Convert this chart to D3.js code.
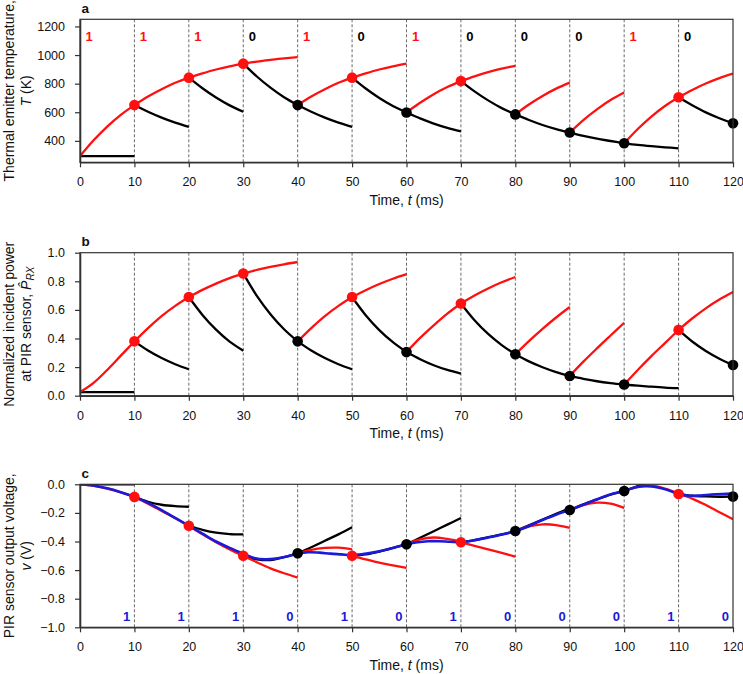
<!DOCTYPE html>
<html><head><meta charset="utf-8">
<script src="https://cdn.jsdelivr.net/npm/d3@7"></script>
<style>
body{margin:0;background:#fff}
text{font-family:"Liberation Sans",Arial,Helvetica,sans-serif}
</style>
</head><body>
<svg id="chart" width="743" height="674"></svg>
<script>
// ---------- DATA ----------
const boundaries = [0,10,20,30,40,50,60,70,80,90,100,110,120];
const bits = [1,1,1,0,1,0,1,0,0,0,1,0];
const sampleOffsets = [0,2.5,5,7.5,10];

// Panel a: emitter temperature (K), per 10 ms interval, predicted "1" (red) and "0" (black) branches
const tempRed = [
 [293,404,500,582,650],[650,710,761,806,842],[842,872,899,921,940],[940,954,967,977,986],
 [650,710,761,806,842],[842,872,899,921,940],[598,666,726,776,818],[818,851,880,905,925],
 [585,654,714,765,807],[458,545,620,685,738],[383,483,570,644,705],[705,756,801,839,870]];
const tempBlack = [
 [293,293,293,293,293],[650,603,562,527,498],[842,768,703,648,603],[940,850,772,705,650],
 [650,603,562,527,498],[842,766,700,644,598],[598,557,521,491,466],[818,746,683,629,585],
 [585,546,511,482,458],[458,435,415,399,383],[383,372,363,355,348],[705,649,599,558,523]];
const tempDots = [650,842,940,650,842,598,818,585,458,383,705,523];

// Panel b: normalized incident power at PIR sensor
const powerRed = [
 [0.025,0.09,0.18,0.28,0.38],[0.38,0.473,0.557,0.628,0.69],[0.69,0.74,0.784,0.822,0.855],[0.855,0.879,0.901,0.919,0.935],
 [0.38,0.473,0.557,0.628,0.69],[0.69,0.738,0.781,0.818,0.85],[0.305,0.404,0.492,0.574,0.645],[0.645,0.701,0.75,0.793,0.83],
 [0.29,0.382,0.468,0.547,0.62],[0.138,0.238,0.331,0.421,0.51],[0.078,0.18,0.277,0.368,0.46],[0.46,0.54,0.611,0.672,0.725]];
const powerBlack = [
 [0.025,0.025,0.025,0.025,0.025],[0.38,0.316,0.263,0.22,0.185],[0.69,0.565,0.462,0.378,0.315],[0.855,0.698,0.57,0.465,0.38],
 [0.38,0.316,0.263,0.22,0.185],[0.69,0.563,0.459,0.374,0.305],[0.305,0.255,0.213,0.18,0.155],[0.645,0.528,0.432,0.354,0.29],
 [0.29,0.24,0.199,0.165,0.138],[0.138,0.118,0.101,0.088,0.078],[0.078,0.07,0.063,0.057,0.053],[0.46,0.379,0.313,0.259,0.215]];
const powerDots = [0.38,0.69,0.855,0.38,0.69,0.305,0.645,0.29,0.138,0.078,0.46,0.215];

// Panel c: PIR sensor output voltage (V)
const voltRed = [
 [0,-0.01,-0.03,-0.057,-0.088],[-0.088,-0.135,-0.186,-0.238,-0.29],[-0.29,-0.35,-0.405,-0.455,-0.50],[-0.50,-0.545,-0.588,-0.622,-0.652],
 [-0.483,-0.458,-0.445,-0.443,-0.455],[-0.50,-0.525,-0.548,-0.567,-0.585],[-0.42,-0.385,-0.372,-0.382,-0.40],[-0.405,-0.43,-0.455,-0.48,-0.506],
 [-0.327,-0.295,-0.28,-0.285,-0.305],[-0.18,-0.145,-0.128,-0.135,-0.165],[-0.047,-0.018,-0.01,-0.03,-0.065],[-0.068,-0.1,-0.145,-0.195,-0.245]];
const voltBlack = [
 [0,0,0,0,0],[-0.088,-0.122,-0.143,-0.153,-0.157],[-0.29,-0.318,-0.338,-0.348,-0.35],[-0.50,-0.525,-0.53,-0.51,-0.483],
 [-0.483,-0.44,-0.395,-0.35,-0.30],[-0.50,-0.49,-0.47,-0.445,-0.42],[-0.42,-0.374,-0.328,-0.282,-0.236],[-0.405,-0.39,-0.37,-0.35,-0.327],
 [-0.327,-0.287,-0.247,-0.207,-0.167],[-0.18,-0.14,-0.105,-0.072,-0.047],[-0.047,-0.012,0.022,0.056,0.09],[-0.068,-0.08,-0.085,-0.087,-0.086]];
const voltDots = [-0.088,-0.29,-0.50,-0.483,-0.50,-0.42,-0.405,-0.327,-0.18,-0.047,-0.068,-0.086];

// measured PIR voltage (blue)
const measuredT = [0,2.5,5,7.5,10,12.5,15,17.5,20,22.5,25,27.5,30,32,34,36,38,40,42,44,46,48,50,52,54,56,58,60,62,64,66,68,70,72,74,76,78,80,82,84,86,88,90,92,94,96,98,100,102,104,106,108,110,112,114,116,118,120];
const measuredV = [0,-0.01,-0.028,-0.055,-0.088,-0.13,-0.18,-0.235,-0.29,-0.345,-0.40,-0.445,-0.485,-0.515,-0.525,-0.52,-0.505,-0.485,-0.475,-0.478,-0.485,-0.49,-0.495,-0.488,-0.476,-0.46,-0.44,-0.42,-0.405,-0.398,-0.398,-0.402,-0.405,-0.395,-0.38,-0.365,-0.348,-0.327,-0.3,-0.265,-0.235,-0.205,-0.18,-0.15,-0.12,-0.09,-0.065,-0.045,-0.022,-0.014,-0.02,-0.04,-0.068,-0.08,-0.078,-0.072,-0.068,-0.065];

const tempTicks = [400,600,800,1000,1200];
const powerTicks = [0,0.2,0.4,0.6,0.8,1.0];
const voltTicks = [0,-0.2,-0.4,-0.6,-0.8,-1.0];

// ---------- DRAW ----------
const RED = "#ff1010", BLACK = "#000", BLUE = "#1a1ad8";
const svg = d3.select("#chart");
const x = d3.scaleLinear().domain([0,120]).range([80,733]);
const PH = 143;

const panels = [
 {id:"a", top:19.3, domain:[250,1250], ticks:tempTicks, fmt:d3.format("d"), red:tempRed, black:tempBlack, dots:tempDots,
  title:[["Thermal emitter temperature,",false]], title2:[["T",true],[" (K)",false]], bitsTop:true},
 {id:"b", top:252.7, domain:[0,1], ticks:powerTicks, fmt:d3.format(".1f"), red:powerRed, black:powerBlack, dots:powerDots,
  title:[["Normalized incident power",false]], title2:"power"},
 {id:"c", top:484.3, domain:[-1,0], ticks:voltTicks, fmt:d3.format(".1f"), red:voltRed, black:voltBlack, dots:voltDots,
  title:[["PIR sensor output voltage,",false]], title2:[["v",true],[" (V)",false]], measured:true}
];

panels.forEach((p,pi)=>{
  const y = d3.scaleLinear().domain(p.domain).range([p.top+PH, p.top]);
  const g = svg.append("g");
  const clipId = "clip"+p.id;
  svg.append("clipPath").attr("id",clipId).append("rect")
    .attr("x",x(0)).attr("y",p.top).attr("width",x(120)-x(0)).attr("height",PH);

  // dashed verticals
  g.selectAll(".vl").data(boundaries.slice(1,-1)).join("line")
    .attr("x1",d=>x(d)).attr("x2",d=>x(d)).attr("y1",p.top).attr("y2",p.top+PH)
    .attr("stroke","#444").attr("stroke-width",0.8).attr("stroke-dasharray","3,2");

  const line = d3.line().x(d=>x(d[0])).y(d=>y(d[1])).curve(d3.curveCatmullRom.alpha(0.5));
  const cg = g.append("g").attr("clip-path",`url(#${clipId})`);
  const seg = (arr,i)=>arr.map((v,k)=>[boundaries[i]+sampleOffsets[k], v]);

  cg.selectAll(".blk").data(p.black).join("path")
    .attr("d",(d,i)=>line(seg(d,i))).attr("fill","none").attr("stroke",BLACK).attr("stroke-width",2.3);
  cg.selectAll(".red").data(p.red).join("path")
    .attr("d",(d,i)=>line(seg(d,i))).attr("fill","none").attr("stroke",RED).attr("stroke-width",2.3);

  if(p.measured){
    const pts = measuredT.map((t,i)=>[t,measuredV[i]]);
    cg.append("path").attr("d",line(pts)).attr("fill","none").attr("stroke",BLUE).attr("stroke-width",2.6);
  }

  g.selectAll(".dot").data(p.dots).join("circle")
    .attr("cx",(d,i)=>x(boundaries[i+1])).attr("cy",d=>y(d)).attr("r",5.3)
    .attr("fill",(d,i)=>bits[i]?RED:BLACK);

  // axes
  const xa = g.append("g").attr("transform",`translate(0,${p.top+PH})`)
    .call(d3.axisBottom(x).tickValues(boundaries).tickSize(5).tickPadding(10).tickSizeOuter(0));
  const ya = g.append("g").attr("transform",`translate(${x(0)},0)`)
    .call(d3.axisLeft(y).tickValues(p.ticks).tickFormat(p.fmt).tickSize(5).tickPadding(10).tickSizeOuter(0));
  [xa,ya].forEach(a=>{
    a.selectAll("text").attr("font-size",12.5).attr("fill","#111").attr("font-family","'Liberation Sans',Arial,sans-serif");
    a.selectAll("line").attr("stroke","#333").attr("stroke-width",1.2);
    a.select(".domain").attr("stroke","#333").attr("stroke-width",1.6);
  });
  g.append("rect").attr("x",x(0)).attr("y",p.top).attr("width",x(120)-x(0)).attr("height",PH)
    .attr("fill","none").attr("stroke","#333").attr("stroke-width",1.2);

  // x title
  const xt = g.append("text").attr("x",(x(0)+x(120))/2).attr("y",p.top+PH+42.5)
    .attr("text-anchor","middle").attr("font-size",14).attr("fill","#111");
  xt.append("tspan").text("Time, ");
  xt.append("tspan").attr("font-style","italic").text("t");
  xt.append("tspan").text(" (ms)");

  // panel letter
  g.append("text").attr("x",x(0)+1.5).attr("y",p.top-6.5).attr("font-size",13.5).attr("font-weight","bold")
    .attr("fill","#111").text(p.id);

  // y title
  const cy = p.top+PH/2;
  const t1 = g.append("text").attr("transform",`translate(14,${cy}) rotate(-90)`)
    .attr("text-anchor","middle").attr("font-size",14).attr("fill","#111");
  p.title.forEach(([s,it])=>t1.append("tspan").attr("font-style",it?"italic":null).text(s));
  const t2 = g.append("text").attr("transform",`translate(31,${cy}) rotate(-90)`)
    .attr("text-anchor","middle").attr("font-size",14).attr("fill","#111");
  if(p.title2==="power"){
    t2.append("tspan").text("at PIR sensor, ");
    t2.append("tspan").attr("font-style","italic").text("P\u0302");
    t2.append("tspan").attr("font-style","italic").attr("font-size",10).attr("dy",3).text("RX");
  } else {
    p.title2.forEach(([s,it])=>t2.append("tspan").attr("font-style",it?"italic":null).text(s));
  }

  // bit labels
  if(p.bitsTop){
    g.selectAll(".bit").data(bits).join("text")
      .attr("x",(d,i)=>x(boundaries[i])+9).attr("y",p.top+22)
      .attr("text-anchor","middle").attr("font-size",13).attr("font-weight","bold")
      .attr("fill",d=>d?RED:BLACK).text(d=>d);
  }
  if(p.measured){
    g.selectAll(".bitc").data(bits).join("text")
      .attr("x",(d,i)=>x(boundaries[i+1])-7.7).attr("y",p.top+136.5)
      .attr("text-anchor","middle").attr("font-size",13).attr("font-weight","bold")
      .attr("fill",BLUE).text(d=>d);
  }
});
</script>
</body></html>
